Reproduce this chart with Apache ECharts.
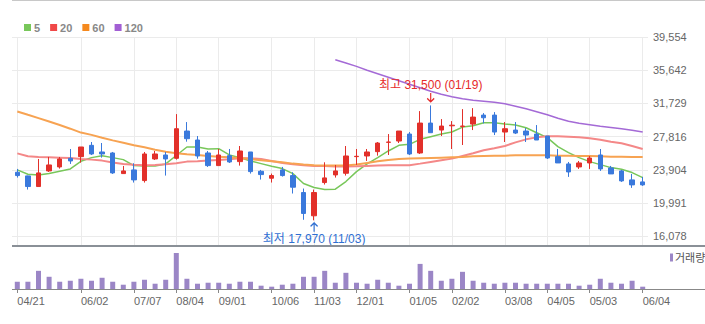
<!DOCTYPE html>
<html>
<head>
<meta charset="utf-8">
<script src="https://cdn.jsdelivr.net/npm/echarts@6/dist/echarts.min.js"></script>
<style>
  html, body { margin: 0; padding: 0; background: #fff; }
  #chart { width: 705px; height: 324px; }
</style>
</head>
<body>
<div id="chart"></div>
<script>
// Weekly candles, one entry per week
const weeks = ['04/21','04/28','05/05','05/12','05/19','05/26','06/02','06/09','06/16','06/23',
  '06/30','07/07','07/14','07/21','07/28','08/04','08/11','08/18','08/25','09/01',
  '09/08','09/15','09/22','09/29','10/06','10/13','10/20','10/27','11/03','11/10',
  '11/17','11/24','12/01','12/08','12/15','12/22','12/29','01/05','01/12','01/19',
  '01/26','02/02','02/09','02/16','02/23','03/01','03/08','03/15','03/22','03/29',
  '04/05','04/12','04/19','04/26','05/03','05/10','05/17','05/24','05/31','06/04'];

// Dates that get a tick, label and vertical grid line
const dateTicks = ['04/21','06/02','07/07','08/04','09/01','10/06','11/03','12/01',
  '01/05','02/02','03/08','04/05','05/03','06/04'];

// Price axis labels
const priceTicks = [16078, 19991, 23904, 27816, 31729, 35642, 39554];

const opens  = [23630,23200,21948,23787,24256,25273,25469,26799,26017,25899,
  23474,23904,22652,25195,25665,25273,28482,27426,25899,24413,
  25586,24882,26017,23748,22926,23904,23239,21243,18504,22417,
  23317,23513,25470,25547,26056,27150,27308,28130,25899,29421,
  28599,29100,29030,29303,30360,30360,28365,28599,28482,28130,
  27895,25469,24608,24256,24726,25665,24139,23787,22730,22495];
const closes = [23239,21948,23552,24491,25195,24960,26604,25782,25782,23552,
  23787,22730,25782,25782,25195,28756,27582,25547,24413,25665,
  24843,26134,23708,23356,23239,23239,21870,18778,21243,22965,
  23787,25547,25510,26017,27073,27190,28482,25782,29421,28286,
  29069,29170,29069,30125,30047,28365,28756,28247,28012,27426,
  25312,24726,23669,24726,25312,24021,23435,22613,22143,22143];
const lows   = [23004,21596,21948,23669,24060,24608,24765,25665,25352,23435,
  23474,22417,22417,25078,23239,25117,27230,25234,24256,24413,
  24726,24413,23474,22769,22417,23122,21126,18035,17970,22182,
  23004,23239,24491,24960,25586,25665,27073,25665,25782,28286,
  27895,26369,26838,28599,29382,28012,27191,28130,27191,27426,
  25195,24726,23083,24021,24021,23787,23435,22495,21791,22026];
const highs  = [24021,23230,25195,25430,25430,26369,26604,27191,27073,26017,
  24374,24687,26017,26134,26017,30477,29538,27895,26134,26369,
  26369,26721,26017,23904,23474,24256,23630,21713,21596,24804,
  24491,26721,26369,26369,27191,28130,28482,28365,30829,31500,
  29890,29655,31064,31182,30595,30712,29538,29538,28834,29186,
  27895,26369,24843,24960,25547,26369,24374,23904,23435,23083];

// Weekly traded volume (shares)
const volumes = [220000,220000,550000,370000,220000,250000,310000,250000,340000,220000,
  130000,220000,280000,160000,280000,1090000,310000,160000,190000,190000,
  160000,220000,220000,100000,70000,130000,160000,370000,370000,550000,
  190000,490000,190000,160000,280000,190000,100000,160000,760000,550000,
  250000,310000,520000,250000,190000,160000,190000,190000,160000,160000,
  160000,160000,160000,100000,130000,310000,190000,160000,250000,70000];

// Moving averages of the close
const ma5 = [23904,23395,23317,23474,23747,24021,24921,25352,25586,25352,
  25117,24413,24374,24374,24608,25600,26604,26604,26369,26408,
  25665,25352,24960,24648,24334,24060,23474,22300,21830,21596,
  21635,22535,23708,24608,25352,26134,26799,26917,27504,27816,
  28130,28365,28951,29108,29460,29460,29303,29186,28873,28286,
  27700,26643,25939,25352,24882,24530,24178,23982,23591,23004];
const ma20 = [25850,25508,25420,25400,25352,25300,25195,25117,25000,24790,
  24608,24500,24452,24491,24569,24700,24882,24940,25000,25080,
  25160,25274,25274,25195,24960,24726,24569,24452,24374,24374,
  24295,24295,24334,24374,24413,24452,24452,24452,24647,24843,
  25039,25235,25547,25860,26212,26447,26721,27152,27504,27738,
  27856,27856,27816,27738,27621,27465,27230,27034,26721,26369];
const ma60 = [30791,30399,30008,29600,29190,28760,28300,28030,27700,27386,
  27112,26799,26565,26291,26056,25860,25743,25665,25547,25469,
  25391,25313,25195,25039,24921,24804,24647,24530,24452,24413,
  24413,24413,24530,24726,24921,25078,25195,25235,25274,25313,
  25352,25391,25430,25508,25547,25586,25586,25625,25625,25625,
  25625,25586,25586,25547,25547,25508,25469,25469,25430,25430];
const ma120 = [null,null,null,null,null,null,null,null,null,null,
  null,null,null,null,null,null,null,null,null,null,
  null,null,null,null,null,null,null,null,null,null,
  36882,36493,36093,35645,35233,34821,34409,33997,33585,33173,
  32820,32526,32290,32113,31996,31878,31702,31407,31113,30760,
  30407,29994,29641,29406,29229,29053,28912,28758,28581,28370];

const UP = '#e2302a';
const DOWN = '#3a79dc';
const FONT = '"Liberation Sans", "Noto Sans CJK KR", sans-serif';
const fmt = v => v.toLocaleString('en-US');

const candles = weeks.map((w, i) => [opens[i], closes[i], lows[i], highs[i]]);
const hiIdx = highs.indexOf(Math.max(...highs));
const loIdx = lows.indexOf(Math.min(...lows));

const chart = echarts.init(document.getElementById('chart'), null, { renderer: 'svg' });

chart.setOption({
  animation: false,
  backgroundColor: '#fff',
  textStyle: { fontFamily: FONT },
  legend: [
    {
      data: ['5', '20', '60', '120'],
      left: 19, top: 17,
      icon: 'rect', itemWidth: 7, itemHeight: 7, itemGap: 10,
      selectedMode: false,
      textStyle: { color: '#888', fontWeight: 'bold', fontSize: 11, fontFamily: FONT, padding: [0, 0, 0, -2] }
    },
    {
      data: ['거래량'],
      left: 665, top: 247,
      icon: 'rect', itemWidth: 3, itemHeight: 8,
      selectedMode: false,
      textStyle: { color: '#555', fontSize: 11, fontFamily: FONT, padding: [0, 0, 0, -3] }
    }
  ],
  grid: [
    { left: 12, right: 57, top: 37, height: 209 },
    { left: 12, right: 57, top: 253, height: 36 }
  ],
  xAxis: [
    {
      gridIndex: 0, type: 'category', data: weeks, boundaryGap: true,
      axisLine: { show: false }, axisTick: { show: false },
      axisLabel: { show: false }, splitLine: { show: false }
    },
    {
      gridIndex: 1, type: 'category', data: weeks, boundaryGap: true,
      axisLine: { show: false },
      axisTick: {
        show: true, alignWithLabel: true, length: 4,
        interval: (i, v) => dateTicks.includes(v),
        lineStyle: { color: '#888' }
      },
      axisLabel: {
        interval: (i, v) => dateTicks.includes(v),
        align: 'left', color: '#666', fontSize: 11, margin: 6, fontFamily: FONT
      },
      splitLine: { show: false }
    }
  ],
  yAxis: [
    {
      gridIndex: 0, type: 'value', position: 'right',
      min: 14948, max: 39554,
      axisLine: { show: false }, axisTick: { show: false }, splitLine: { show: false },
      axisLabel: {
        customValues: priceTicks, showMinLabel: true, showMaxLabel: true,
        formatter: v => fmt(v), color: '#666', fontSize: 11, margin: 5, fontFamily: FONT
      }
    },
    {
      gridIndex: 1, type: 'value', min: 0, max: 'dataMax', show: false
    }
  ],
  series: [
    { name: '5', type: 'line', data: ma5, symbol: 'none', color: '#78c75a',
      lineStyle: { width: 1.5, color: '#78c75a' }, z: 2 },
    { name: '20', type: 'line', data: ma20, symbol: 'none', color: '#f04848',
      lineStyle: { width: 2, color: '#f48888' }, z: 2 },
    { name: '60', type: 'line', data: ma60, symbol: 'none', color: '#f5891e',
      lineStyle: { width: 2, color: '#f7a352' }, z: 2 },
    { name: '120', type: 'line', data: ma120, symbol: 'none', color: '#a25fd4',
      lineStyle: { width: 1.5, color: '#a46ad6' }, z: 2 },
    {
      name: 'price', type: 'candlestick', data: candles, barWidth: 5, z: 3,
      itemStyle: { color: UP, color0: DOWN, borderColor: UP, borderColor0: DOWN, borderWidth: 1 },
      markLine: {
        silent: true, z: 1, symbol: ['none', 'none'],
        label: { show: false },
        lineStyle: { color: '#ebebeb', width: 1, type: 'solid' },
        data: [
          ...priceTicks.map(v => ({ yAxis: v })),
          ...dateTicks.map(d => ({ xAxis: d }))
        ]
      },
      markPoint: {
        silent: true,
        data: [
          {
            coord: [weeks[hiIdx], highs[hiIdx]],
            symbol: 'path://M4,0 L4,10 M0,6 L4,10 L8,6',
            symbolSize: [7, 9], symbolOffset: [0, -8],
            itemStyle: { color: 'rgba(0,0,0,0)', borderColor: '#e62a2a', borderWidth: 1.3 },
            label: {
              show: true, position: 'top', distance: 1,
              formatter: '최고 ' + fmt(highs[hiIdx]) + ' (' + weeks[hiIdx] + ')',
              color: '#e62a2a', fontSize: 12, fontFamily: FONT
            }
          },
          {
            coord: [weeks[loIdx], lows[loIdx]],
            symbol: 'path://M4,10 L4,0 M0,4 L4,0 L8,4',
            symbolSize: [7, 9], symbolOffset: [0, 7],
            itemStyle: { color: 'rgba(0,0,0,0)', borderColor: '#2f6fd2', borderWidth: 1.3 },
            label: {
              show: true, position: 'bottom', distance: 0,
              formatter: '최저 ' + fmt(lows[loIdx]) + ' (' + weeks[loIdx] + ')',
              color: '#2f6fd2', fontSize: 12, fontFamily: FONT
            }
          }
        ]
      }
    },
    {
      name: '거래량', type: 'bar', xAxisIndex: 1, yAxisIndex: 1,
      data: volumes, barWidth: 5, color: '#9b86c6',
      itemStyle: { color: '#9b86c6' }
    }
  ],
  graphic: [
    { type: 'line', z: 100, silent: true, shape: { x1: 12, y1: 0.5, x2: 705, y2: 0.5 },
      style: { stroke: '#c8c8c8', lineWidth: 1 } },
    { type: 'line', z: 100, silent: true, shape: { x1: 12, y1: 246, x2: 705, y2: 246 },
      style: { stroke: '#8a9097', lineWidth: 2 } },
    { type: 'line', z: 100, silent: true, shape: { x1: 12, y1: 289.5, x2: 705, y2: 289.5 },
      style: { stroke: '#888', lineWidth: 1 } }
  ]
});
</script>
</body>
</html>
